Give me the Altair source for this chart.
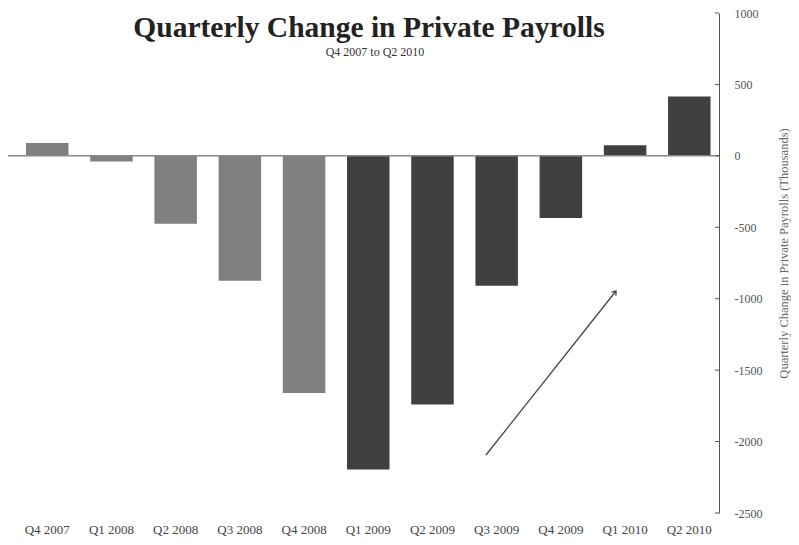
import altair as alt
import pandas as pd

quarters = ["Q4 2007", "Q1 2008", "Q2 2008", "Q3 2008", "Q4 2008", "Q1 2009",
            "Q2 2009", "Q3 2009", "Q4 2009", "Q1 2010", "Q2 2010"]
changes = [90, -40, -475, -875, -1660, -2195, -1740, -910, -435, 75, 415]
shade = ["light", "light", "light", "light", "light", "dark",
         "dark", "dark", "dark", "dark", "dark"]
tick_values = [-2500, -2000, -1500, -1000, -500, 0, 500, 1000]

W, H = 711, 500
SERIF = "Liberation Serif"

df = pd.DataFrame({"quarter": quarters, "change": changes, "shade": shade})
ticks_df = pd.DataFrame({"v": tick_values})

yscale = alt.Scale(domain=[-2500, 1000], nice=False, zero=False)
xscale = alt.Scale(paddingInner=0.338, paddingOuter=0.206, align=0.68)

bars = alt.Chart(df).mark_bar().encode(
    x=alt.X("quarter:N", sort=quarters, scale=xscale,
            axis=alt.Axis(title=None, labelAngle=0, domain=False, ticks=False,
                          labelFont=SERIF, labelFontSize=13, labelColor="#444",
                          labelPadding=10)),
    y=alt.Y("change:Q", scale=yscale,
            axis=alt.Axis(orient="right", values=tick_values, ticks=False, grid=False,
                          domainColor="#555", domainWidth=1,
                          labelExpr="'' + datum.value",
                          labelFont=SERIF, labelFontSize=12, labelColor="#555",
                          labelPadding=15,
                          title="Quarterly Change in Private Payrolls (Thousands)",
                          titleFont=SERIF, titleFontSize=12.5, titleFontWeight="normal",
                          titleColor="#666", titleAngle=270, titleX=64, titleY=240,
                          titleAlign="center", titleBaseline="middle")),
    color=alt.Color("shade:N", scale=alt.Scale(domain=["light", "dark"],
                                               range=["#808080", "#404040"]),
                    legend=None),
)

zero = alt.Chart(pd.DataFrame({"z": [0]})).mark_rule(color="#888", strokeWidth=1.5).encode(
    y=alt.Y("z:Q", scale=yscale), x=alt.value(0), x2=alt.value(W))

tick_marks = alt.Chart(ticks_df).mark_rule(color="#555", strokeWidth=1).encode(
    y=alt.Y("v:Q", scale=yscale), x=alt.value(W - 4), x2=alt.value(W))

title = alt.Chart(pd.DataFrame({"t": ["Quarterly Change in Private Payrolls"]})).mark_text(
    font=SERIF, fontSize=29.5, fontWeight="bold", color="#222", align="center",
    baseline="alphabetic").encode(text="t:N", x=alt.value(361), y=alt.value(24))

subtitle = alt.Chart(pd.DataFrame({"t": ["Q4 2007 to Q2 2010"]})).mark_text(
    font=SERIF, fontSize=12, color="#333", align="center",
    baseline="alphabetic").encode(text="t:N", x=alt.value(367), y=alt.value(43))

arrow_line = alt.Chart(pd.DataFrame({"a": [1]})).mark_rule(color="#444", strokeWidth=1.3).encode(
    x=alt.value(478), y=alt.value(442), x2=alt.value(608), y2=alt.value(278))

arrow_head = alt.Chart(pd.DataFrame({"a": [1]})).mark_point(
    shape="M-0.6,0.8L0,0L0.6,0.8", filled=False, color="#444", strokeWidth=1.3,
    size=90, angle=38, opacity=1).encode(x=alt.value(608), y=alt.value(278))

chart = alt.layer(bars, zero, tick_marks, title, subtitle, arrow_line, arrow_head).properties(
    width=W, height=H, padding={"left": 0, "top": 5, "right": 72, "bottom": 24},
    autosize=alt.AutoSizeParams(type="none"), background="white"
).configure_view(stroke="transparent")

chart.save("out.html", embed_options={"renderer": "svg", "actions": False})
